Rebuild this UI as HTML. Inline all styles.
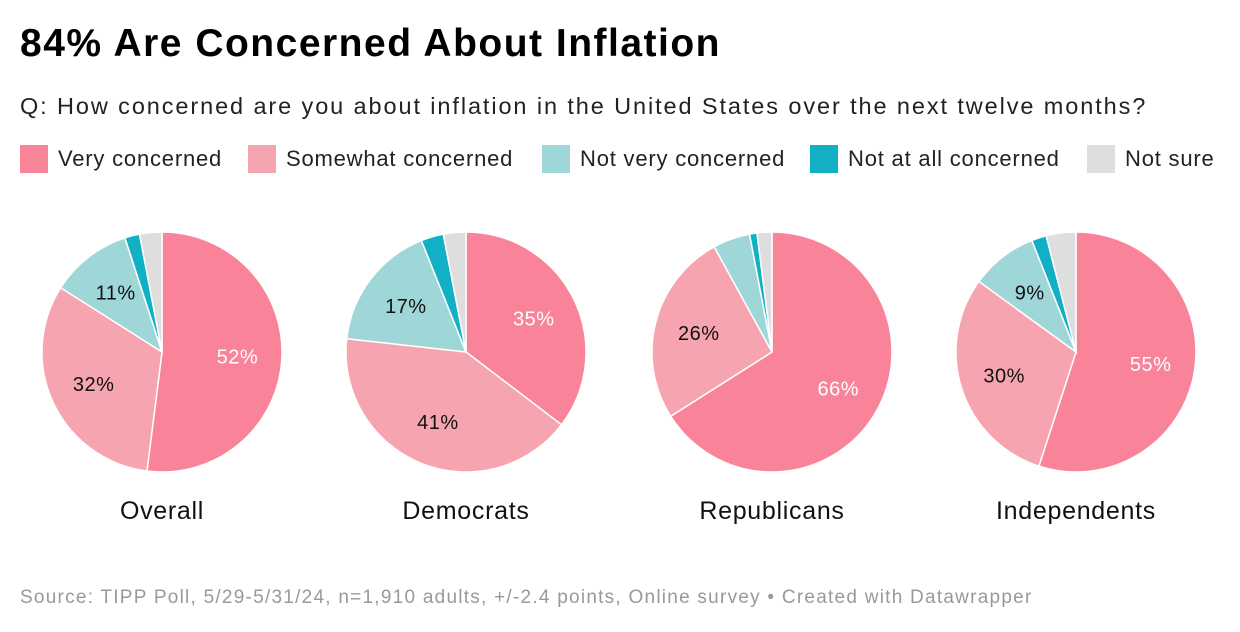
<!DOCTYPE html>
<html><head><meta charset="utf-8"><style>
body{margin:0;width:1240px;height:632px;background:#fff;font-family:"Liberation Sans",sans-serif;overflow:hidden;position:relative}
.t{position:absolute;white-space:nowrap}
.lg{position:absolute;top:145px;display:flex;align-items:center;font-size:22px;color:#222;letter-spacing:0.8px}
.sw{width:28px;height:28px;margin-right:10px}
</style></head><body>
<div class="t" style="left:20px;top:22px;font-size:39px;font-weight:bold;color:#000;letter-spacing:1.5px">84% Are Concerned About Inflation</div>
<div class="t" style="left:20px;top:93px;font-size:23.5px;color:#222;letter-spacing:1.9px">Q: How concerned are you about inflation in the United States over the next twelve months?</div>
<div class="lg" style="left:20px"><div class="sw" style="background:#f98399"></div>Very concerned</div>
<div class="lg" style="left:248px"><div class="sw" style="background:#f6a4af"></div>Somewhat concerned</div>
<div class="lg" style="left:542px"><div class="sw" style="background:#9fd6d8"></div>Not very concerned</div>
<div class="lg" style="left:810px"><div class="sw" style="background:#12b0c4"></div>Not at all concerned</div>
<div class="lg" style="left:1087px"><div class="sw" style="background:#dedede"></div>Not sure</div>
<svg id="c" width="1240" height="632" style="position:absolute;left:0;top:0"></svg>
<div class="t" style="left:20px;top:587px;font-size:19px;color:#999;letter-spacing:1.25px">Source: TIPP Poll, 5/29-5/31/24, n=1,910 adults, +/-2.4 points, Online survey • Created with Datawrapper</div>
<script>
const groups=["Overall","Democrats","Republicans","Independents"];
const veryConcerned=[52,35,66,55];
const somewhatConcerned=[32,41,26,30];
const notVeryConcerned=[11,17,5,9];
const notAtAllConcerned=[2,3,1,2];
const notSure=[3,3,2,4];
const colors=["#f98399","#f6a4af","#9fd6d8","#12b0c4","#dedede"];
const svg=document.getElementById('c');
const NS="http://www.w3.org/2000/svg";
const centersX=[162,466,772,1076],cy=352,R=120;
groups.forEach((g,i)=>{
  const vals=[veryConcerned[i],somewhatConcerned[i],notVeryConcerned[i],notAtAllConcerned[i],notSure[i]];
  const tot=vals.reduce((a,b)=>a+b,0);
  let a0=0;const cx=centersX[i];
  vals.forEach((v,j)=>{
    const a1=a0+v/tot*2*Math.PI;
    const x0=cx+R*Math.sin(a0),y0=cy-R*Math.cos(a0),x1=cx+R*Math.sin(a1),y1=cy-R*Math.cos(a1);
    const p=document.createElementNS(NS,'path');
    p.setAttribute('d',`M${cx},${cy}L${x0},${y0}A${R},${R} 0 ${a1-a0>Math.PI?1:0} 1 ${x1},${y1}Z`);
    p.setAttribute('fill',colors[j]);p.setAttribute('stroke','#fff');p.setAttribute('stroke-width','1.5');
    
    
    svg.appendChild(p);
    if(v>=9){
      const m=(a0+a1)/2,d=R*0.63;
      const t=document.createElementNS(NS,'text');
      t.setAttribute('x',cx+d*Math.sin(m));t.setAttribute('y',cy-d*Math.cos(m)+7);
      t.setAttribute('text-anchor','middle');t.setAttribute('font-size','20');
      t.setAttribute('letter-spacing','0.5');
      t.setAttribute('fill',j==0?'#fff':'#111');t.textContent=v+'%';
      
      
      svg.appendChild(t);
    }
    a0=a1;
  });
  const t=document.createElementNS(NS,'text');
  t.setAttribute('x',cx);t.setAttribute('y',519);t.setAttribute('text-anchor','middle');
  t.setAttribute('font-size','25');t.setAttribute('letter-spacing','0.7');t.setAttribute('fill','#111');t.textContent=g;
  
  
  svg.appendChild(t);
});
</script>
</body></html>
